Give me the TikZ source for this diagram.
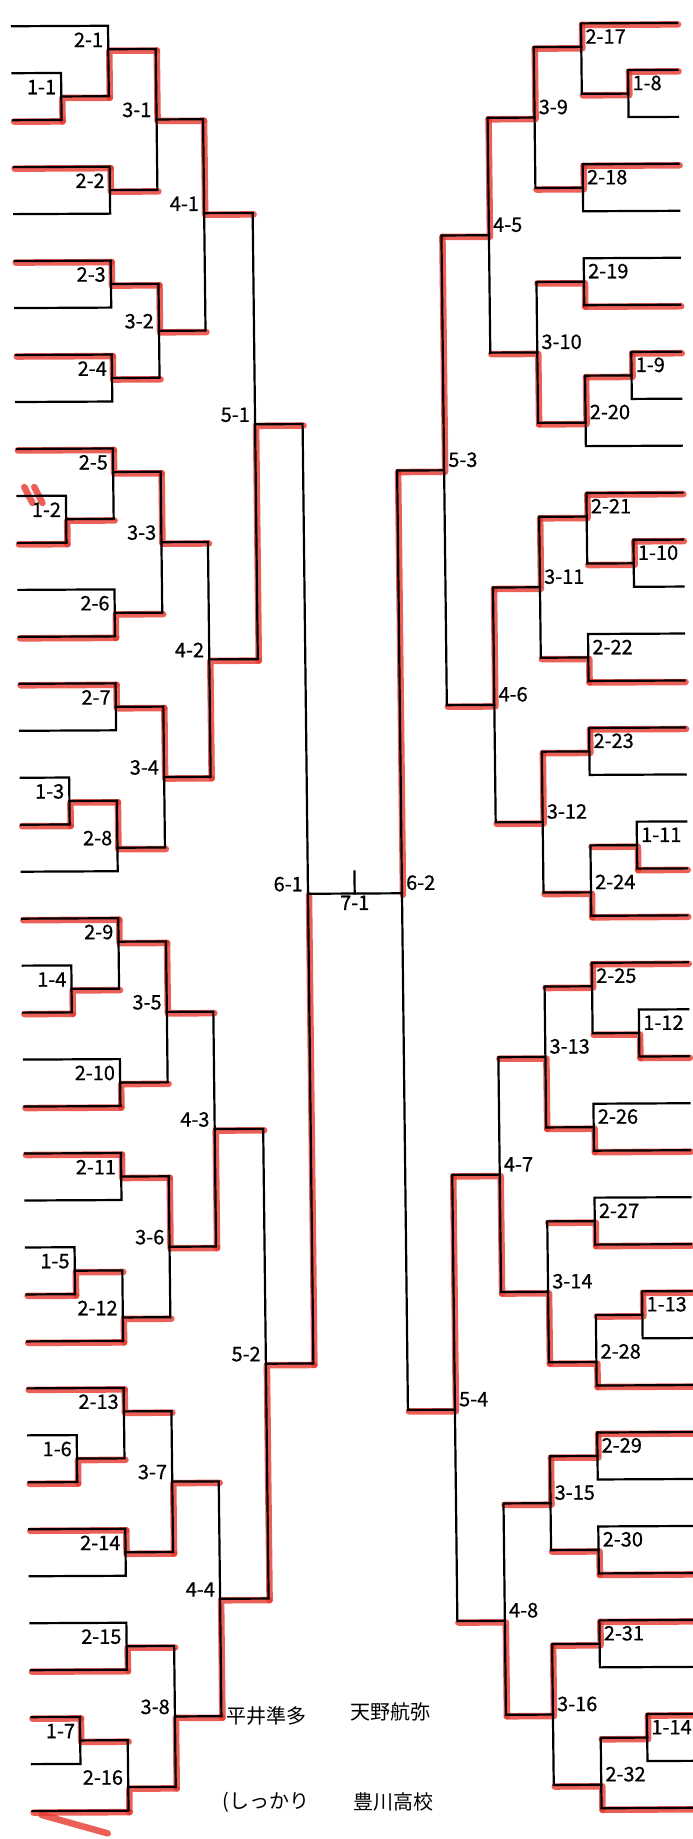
\documentclass[tikz,border=0pt]{standalone}
\usepackage{fontspec}
\newfontfamily\jpfont[FakeBold=0.6]{Noto Sans CJK JP}
\newfontfamily\handfont{Noto Sans CJK JP}
\usepackage{tikz}
\pgfdeclarelayer{bg}
\pgfdeclarelayer{marks}
\pgfsetlayers{bg,marks,main}
\definecolor{marker}{RGB}{232,56,46}
% columns, left and right
\def\cLz{12}\def\cLa{60.5}\def\cLb{108}\def\cLc{155.5}\def\cLd{202}\def\cLe{250.5}\def\cLf{298}
\def\cRz{677}\def\cRa{627.5}\def\cRb{581}\def\cRc{533.5}\def\cRd{486.5}\def\cRe{439}\def\cRf{392}
% {label}{x vert}{x top}{u top}{x bot}{u bot}{u out}{u winner}{x parent}
\newcommand{\matchL}[9]{%
\begin{pgfonlayer}{marks}\draw[rline](#2,#8)--(#2,#7)--(#9,#7);\end{pgfonlayer}
\draw[bline](#3,#4)--(#2,#4)--(#2,#6)--(#5,#6);
\node[lblL](g#1)at(#2,#7){#1};}
\newcommand{\matchR}[9]{%
\begin{pgfonlayer}{marks}\draw[rline](#2,#8)--(#2,#7)--(#9,#7);\end{pgfonlayer}
\draw[bline](#3,#4)--(#2,#4)--(#2,#6)--(#5,#6);
\node[lblR](g#1)at(#2,#7){#1};}
\begin{document}
\begin{tikzpicture}[
  bline/.style={line width=2.2pt,line cap=rect},
  rline/.style={marker,line width=6.5pt,opacity=.8,line cap=round,line join=round,xshift=1pt,yshift=-1.5pt},
  lbl/.style={inner sep=1pt,font=\jpfont\fontsize{20}{20}\selectfont},
  lblL/.style={lbl,anchor=south east,xshift=-4pt,yshift=1pt},
  lblR/.style={lbl,anchor=south west,xshift=3pt,yshift=2pt},
  hand/.style={inner sep=0pt,font=\handfont\fontsize{20}{20}\selectfont}]
\begin{pgfonlayer}{bg}
\fill[white](0pt,0pt)rectangle(693pt,-1839pt);
\end{pgfonlayer}
\useasboundingbox(0pt,0pt)rectangle(693pt,-1839pt);
\begin{scope}[shift={(0pt,-26.3pt)},x={(1pt,0.005pt)},y={(0.54pt,-46.97pt)}]
%%% marker on the winners' entry lines
\begin{pgfonlayer}{marks}
\foreach \k/\x in {2/\cLa,3/\cLb,5/\cLb,7/\cLb,9/\cLb,11/\cLa,13/\cLb,14/\cLb,17/\cLa,19/\cLb,21/\cLa,
  23/\cLb,24/\cLb,27/\cLa,28/\cLb,29/\cLb,31/\cLa,32/\cLb,35/\cLb,36/\cLa,38/\cLb}
  \draw[rline](\cLz,\k)--(\x,\k);
\foreach \k/\x in {0/\cRb,1/\cRa,3/\cRb,6/\cRb,7/\cRa,10/\cRb,11/\cRa,14/\cRb,15/\cRb,18/\cRa,19/\cRb,
  20/\cRb,22/\cRa,24/\cRb,26/\cRb,27/\cRa,29/\cRb,30/\cRb,33/\cRb,34/\cRb,36/\cRa,38/\cRb}
  \draw[rline](\cRz,\k)--(\x,\k);
\draw[rline](18,9.78)--(26,10.12)(28,9.78)--(36,10.12);
\draw[rline](20,38.05)--(86,38.45);
\end{pgfonlayer}
%%% left half
\matchL{1-1}{\cLa}{\cLz}{1}{\cLz}{2}{1.5}{2}{\cLb}
\matchL{1-2}{\cLa}{\cLz}{10}{\cLz}{11}{10.5}{11}{\cLb}
\matchL{1-3}{\cLa}{\cLz}{16}{\cLz}{17}{16.5}{17}{\cLb}
\matchL{1-4}{\cLa}{\cLz}{20}{\cLz}{21}{20.5}{21}{\cLb}
\matchL{1-5}{\cLa}{\cLz}{26}{\cLz}{27}{26.5}{27}{\cLb}
\matchL{1-6}{\cLa}{\cLz}{30}{\cLz}{31}{30.5}{31}{\cLb}
\matchL{1-7}{\cLa}{\cLz}{36}{\cLz}{37}{36.5}{36}{\cLb}
\matchL{2-1}{\cLb}{\cLz}{0}{\cLa}{1.5}{0.5}{1.5}{\cLc}
\matchL{2-2}{\cLb}{\cLz}{3}{\cLz}{4}{3.5}{3}{\cLc}
\matchL{2-3}{\cLb}{\cLz}{5}{\cLz}{6}{5.5}{5}{\cLc}
\matchL{2-4}{\cLb}{\cLz}{7}{\cLz}{8}{7.5}{7}{\cLc}
\matchL{2-5}{\cLb}{\cLz}{9}{\cLa}{10.5}{9.5}{9}{\cLc}
\matchL{2-6}{\cLb}{\cLz}{12}{\cLz}{13}{12.5}{13}{\cLc}
\matchL{2-7}{\cLb}{\cLz}{14}{\cLz}{15}{14.5}{14}{\cLc}
\matchL{2-8}{\cLb}{\cLa}{16.5}{\cLz}{18}{17.5}{16.5}{\cLc}
\matchL{2-9}{\cLb}{\cLz}{19}{\cLa}{20.5}{19.5}{19}{\cLc}
\matchL{2-10}{\cLb}{\cLz}{22}{\cLz}{23}{22.5}{23}{\cLc}
\matchL{2-11}{\cLb}{\cLz}{24}{\cLz}{25}{24.5}{24}{\cLc}
\matchL{2-12}{\cLb}{\cLa}{26.5}{\cLz}{28}{27.5}{28}{\cLc}
\matchL{2-13}{\cLb}{\cLz}{29}{\cLa}{30.5}{29.5}{29}{\cLc}
\matchL{2-14}{\cLb}{\cLz}{32}{\cLz}{33}{32.5}{32}{\cLc}
\matchL{2-15}{\cLb}{\cLz}{34}{\cLz}{35}{34.5}{35}{\cLc}
\matchL{2-16}{\cLb}{\cLa}{36.5}{\cLz}{38}{37.5}{38}{\cLc}
\matchL{3-1}{\cLc}{\cLb}{0.5}{\cLb}{3.5}{2}{0.5}{\cLd}
\matchL{3-2}{\cLc}{\cLb}{5.5}{\cLb}{7.5}{6.5}{5.5}{\cLd}
\matchL{3-3}{\cLc}{\cLb}{9.5}{\cLb}{12.5}{11}{9.5}{\cLd}
\matchL{3-4}{\cLc}{\cLb}{14.5}{\cLb}{17.5}{16}{14.5}{\cLd}
\matchL{3-5}{\cLc}{\cLb}{19.5}{\cLb}{22.5}{21}{19.5}{\cLd}
\matchL{3-6}{\cLc}{\cLb}{24.5}{\cLb}{27.5}{26}{24.5}{\cLd}
\matchL{3-7}{\cLc}{\cLb}{29.5}{\cLb}{32.5}{31}{32.5}{\cLd}
\matchL{3-8}{\cLc}{\cLb}{34.5}{\cLb}{37.5}{36}{37.5}{\cLd}
\matchL{4-1}{\cLd}{\cLc}{2}{\cLc}{6.5}{4}{2}{\cLe}
\matchL{4-2}{\cLd}{\cLc}{11}{\cLc}{16}{13.5}{16}{\cLe}
\matchL{4-3}{\cLd}{\cLc}{21}{\cLc}{26}{23.5}{26}{\cLe}
\matchL{4-4}{\cLd}{\cLc}{31}{\cLc}{36}{33.5}{36}{\cLe}
\matchL{5-1}{\cLe}{\cLd}{4}{\cLd}{13.5}{8.5}{13.5}{\cLf}
\matchL{5-2}{\cLe}{\cLd}{23.5}{\cLd}{33.5}{28.5}{33.5}{\cLf}
\matchL{6-1}{\cLf}{\cLe}{8.5}{\cLe}{28.5}{18.5}{28.5}{\cLf}
%%% right half
\matchR{1-8}{\cRa}{\cRz}{1}{\cRz}{2}{1.5}{1}{\cRb}
\matchR{1-9}{\cRa}{\cRz}{7}{\cRz}{8}{7.5}{7}{\cRb}
\matchR{1-10}{\cRa}{\cRz}{11}{\cRz}{12}{11.5}{11}{\cRb}
\matchR{1-11}{\cRa}{\cRz}{17}{\cRz}{18}{17.5}{18}{\cRb}
\matchR{1-12}{\cRa}{\cRz}{21}{\cRz}{22}{21.5}{22}{\cRb}
\matchR{1-13}{\cRa}{\cRz}{27}{\cRz}{28}{27.5}{27}{\cRb}
\matchR{1-14}{\cRa}{\cRz}{36}{\cRz}{37}{36.5}{36}{\cRb}
\matchR{2-17}{\cRb}{\cRz}{0}{\cRa}{1.5}{0.5}{0}{\cRc}
\matchR{2-18}{\cRb}{\cRz}{3}{\cRz}{4}{3.5}{3}{\cRc}
\matchR{2-19}{\cRb}{\cRz}{5}{\cRz}{6}{5.5}{6}{\cRc}
\matchR{2-20}{\cRb}{\cRa}{7.5}{\cRz}{9}{8.5}{7.5}{\cRc}
\matchR{2-21}{\cRb}{\cRz}{10}{\cRa}{11.5}{10.5}{10}{\cRc}
\matchR{2-22}{\cRb}{\cRz}{13}{\cRz}{14}{13.5}{14}{\cRc}
\matchR{2-23}{\cRb}{\cRz}{15}{\cRz}{16}{15.5}{15}{\cRc}
\matchR{2-24}{\cRb}{\cRa}{17.5}{\cRz}{19}{18.5}{19}{\cRc}
\matchR{2-25}{\cRb}{\cRz}{20}{\cRa}{21.5}{20.5}{20}{\cRc}
\matchR{2-26}{\cRb}{\cRz}{23}{\cRz}{24}{23.5}{24}{\cRc}
\matchR{2-27}{\cRb}{\cRz}{25}{\cRz}{26}{25.5}{26}{\cRc}
\matchR{2-28}{\cRb}{\cRa}{27.5}{\cRz}{29}{28.5}{29}{\cRc}
\matchR{2-29}{\cRb}{\cRz}{30}{\cRz}{31}{30.5}{30}{\cRc}
\matchR{2-30}{\cRb}{\cRz}{32}{\cRz}{33}{32.5}{33}{\cRc}
\matchR{2-31}{\cRb}{\cRz}{34}{\cRz}{35}{34.5}{34}{\cRc}
\matchR{2-32}{\cRb}{\cRa}{36.5}{\cRz}{38}{37.5}{38}{\cRc}
\matchR{3-9}{\cRc}{\cRb}{0.5}{\cRb}{3.5}{2}{0.5}{\cRd}
\matchR{3-10}{\cRc}{\cRb}{5.5}{\cRb}{8.5}{7}{8.5}{\cRd}
\matchR{3-11}{\cRc}{\cRb}{10.5}{\cRb}{13.5}{12}{10.5}{\cRd}
\matchR{3-12}{\cRc}{\cRb}{15.5}{\cRb}{18.5}{17}{15.5}{\cRd}
\matchR{3-13}{\cRc}{\cRb}{20.5}{\cRb}{23.5}{22}{23.5}{\cRd}
\matchR{3-14}{\cRc}{\cRb}{25.5}{\cRb}{28.5}{27}{28.5}{\cRd}
\matchR{3-15}{\cRc}{\cRb}{30.5}{\cRb}{32.5}{31.5}{30.5}{\cRd}
\matchR{3-16}{\cRc}{\cRb}{34.5}{\cRb}{37.5}{36}{34.5}{\cRd}
\matchR{4-5}{\cRd}{\cRc}{2}{\cRc}{7}{4.5}{2}{\cRe}
\matchR{4-6}{\cRd}{\cRc}{12}{\cRc}{17}{14.5}{12}{\cRe}
\matchR{4-7}{\cRd}{\cRc}{22}{\cRc}{27}{24.5}{27}{\cRe}
\matchR{4-8}{\cRd}{\cRc}{31.5}{\cRc}{36}{34}{36}{\cRe}
\matchR{5-3}{\cRe}{\cRd}{4.5}{\cRd}{14.5}{9.5}{4.5}{\cRf}
\matchR{5-4}{\cRe}{\cRd}{24.5}{\cRd}{34}{29.5}{24.5}{\cRf}
\matchR{6-2}{\cRf}{\cRe}{9.5}{\cRe}{29.5}{18.5}{9.5}{\cRf}
%%% final
\coordinate(fin)at(344.7,18.5);
\draw[bline](\cLf,18.5)--(\cRf,18.5);
\draw[bline](fin)--++(0,-0.47);
\node[lbl,anchor=north,yshift=-1pt](g7-1)at(fin){7-1};
\end{scope}
%%% names written by hand
\node[hand](nA)at(266pt,-1716pt){平井準多};
\node[hand](nB)at(390pt,-1712pt){天野航弥};
\node[hand](nC)at(266pt,-1802pt){(しっかり};
\node[hand](nD)at(393pt,-1802pt){豊川高校};
\end{tikzpicture}
\end{document}
